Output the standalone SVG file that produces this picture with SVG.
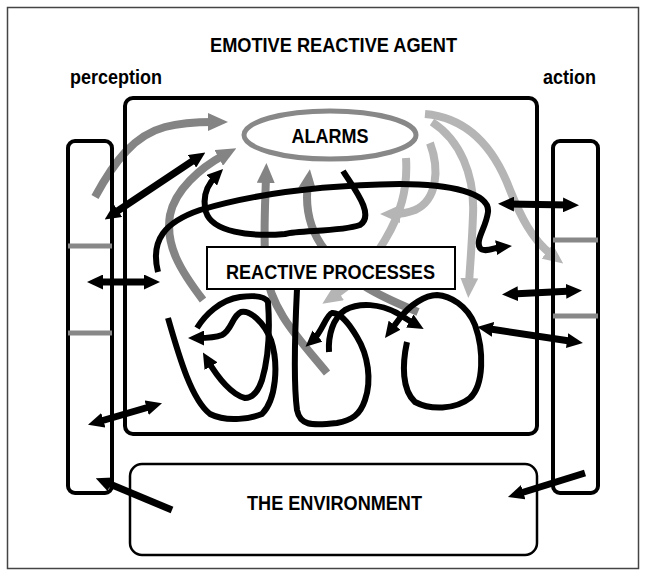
<svg xmlns="http://www.w3.org/2000/svg" width="646" height="576" viewBox="0 0 646 576">
<style>
  text { font-family: "Liberation Sans", Arial, sans-serif; font-weight: bold; fill: #000; }
  .lbl { font-size: 20px; }
  .frame { fill: none; stroke: #000; stroke-width: 4; }
  .bar { stroke: #888; stroke-width: 5; fill: none; }
  .blk { fill: none; stroke: #000; stroke-width: 7; marker-end: url(#ah); }
  .dbl { marker-start: url(#ah); }
  .loop { fill: none; stroke: #000; stroke-width: 6; stroke-linecap: butt; }
  .loopA { marker-end: url(#ah); }
  .g1 { fill: none; stroke: #848484; stroke-width: 8; marker-end: url(#ahg); }
  .g2 { fill: none; stroke: #b5b5b5; stroke-width: 8; marker-end: url(#ahl); }
</style>
<defs>
  <marker id="ah" markerUnits="userSpaceOnUse" markerWidth="16" markerHeight="15" viewBox="0 0 16 15" refX="6" refY="7.5" orient="auto-start-reverse">
    <path d="M0,0 L16,7.5 L0,15 z" fill="#000"/>
  </marker>
  <marker id="ahg" markerUnits="userSpaceOnUse" markerWidth="20" markerHeight="18" viewBox="0 0 20 18" refX="6" refY="9" orient="auto">
    <path d="M0,0 L20,9 L0,18 z" fill="#848484"/>
  </marker>
  <marker id="ahl" markerUnits="userSpaceOnUse" markerWidth="20" markerHeight="18" viewBox="0 0 20 18" refX="6" refY="9" orient="auto">
    <path d="M0,0 L20,9 L0,18 z" fill="#b5b5b5"/>
  </marker>
</defs>

<rect x="7.5" y="7.5" width="631" height="561" fill="#fff" stroke="#444" stroke-width="1.5"/>

<g id="title">
  <text class="lbl" x="333.5" y="52" text-anchor="middle" textLength="247" lengthAdjust="spacingAndGlyphs">EMOTIVE REACTIVE AGENT</text>
</g>

<g id="gray-connectors">
  <path class="g1" d="M95,197 C115,160 135,135 165,127 C180,123 200,122 214,122"/>
  <path class="g1" d="M203,300 C180,270 165,245 170,215 C175,190 200,168 224,155"/>
  <path class="g1" d="M327,373 C300,340 270,310 266,270 C263,240 265,210 266,177"/>
  <path class="g1" d="M418,312 C390,300 350,285 325,250 C308,228 305,205 308,183"/>
  <path class="g2" d="M425,114 C470,118 495,150 510,190 C520,215 532,240 552,255"/>
  <path class="g2" d="M432,122 C460,140 475,175 473,215 C472,245 470,265 469,284"/>
  <path class="g2" d="M430,143 C440,170 437,200 415,210 C407,213 400,214 394,214"/>
  <path class="g2" d="M406,158 C408,190 400,215 385,240 C372,262 355,282 334,296"/>
</g>

<g id="perception">
  <text class="lbl" x="70" y="84" textLength="92" lengthAdjust="spacingAndGlyphs">perception</text>
  <rect class="frame" x="68" y="141" width="44" height="352" rx="7"/>
  <line class="bar" x1="68" y1="246" x2="112" y2="246"/>
  <line class="bar" x1="68" y1="333" x2="112" y2="333"/>
</g>

<g id="action">
  <text class="lbl" x="543" y="84" textLength="53" lengthAdjust="spacingAndGlyphs">action</text>
  <rect class="frame" x="553" y="141" width="45" height="352" rx="7"/>
  <line class="bar" x1="553" y1="240" x2="598" y2="240"/>
  <line class="bar" x1="553" y1="316" x2="598" y2="316"/>
</g>

<g id="agent">
  <rect class="frame" x="125" y="98" width="412" height="336" rx="8"/>
</g>

<g id="alarms">
  <ellipse cx="330" cy="135" rx="86" ry="24" fill="#fff" stroke="#888" stroke-width="5"/>
  <text class="lbl" x="330" y="143" text-anchor="middle" textLength="77" lengthAdjust="spacingAndGlyphs">ALARMS</text>
</g>

<g id="reactive-processes">
  <rect x="207" y="247" width="248" height="42" fill="#fff" stroke="#000" stroke-width="2"/>
  <text class="lbl" x="330.5" y="279" text-anchor="middle" textLength="209" lengthAdjust="spacingAndGlyphs">REACTIVE PROCESSES</text>
</g>

<g id="environment">
  <rect x="130" y="464" width="407" height="91" rx="12" fill="#fff" stroke="#000" stroke-width="2.5"/>
  <text class="lbl" x="334.5" y="510" text-anchor="middle" textLength="175" lengthAdjust="spacingAndGlyphs">THE ENVIRONMENT</text>
</g>

<g id="connectors">
  <path class="blk dbl" d="M113,214 L197,158"/>
  <path class="blk dbl" d="M97,282 L150,282"/>
  <path class="blk dbl" d="M97.6,422 L152.4,406"/>
  <path class="blk" stroke-width="8" d="M172,510 L105,482"/>
  <path class="blk dbl" d="M508,204 L569,205"/>
  <path class="blk dbl" d="M512,294 L572,291"/>
  <path class="blk dbl" d="M487,328.5 L573,341.5"/>
  <path class="blk" stroke-width="8" d="M585,473 L517.5,494"/>
  <path class="loop loopA" d="M158,272 C150,240 165,222 200,210 C260,192 330,185 400,184 C450,184 490,193 488,212 C486,228 475,240 480,248 C484,253 493,248 502,247"/>
  <path class="loop loopA" d="M343,171 C355,190 375,215 360,225 C340,232 300,230 285,234 C250,237 212,232 206,212 C202,197 207,185 216,176"/>
  <path class="loop loopA" d="M168,318 C180,360 192,400 210,414 C228,423 252,418 262,414 C276,400 279,365 271,340 C264,322 250,310 241,312 C232,316 232,330 222,335 C214,338 206,338 198,338"/>
  <path class="loop loopA" d="M197,328 C205,315 220,300 240,297 C255,295 265,296 268,302 C270,330 268,360 262,380 C258,392 252,398 245,398 C232,395 218,378 208,361"/>
  <path class="loop loopA" d="M297,289 C295,330 293,380 297,410 C300,425 310,426 337,423 C352,420 360,415 365,400 C372,380 368,355 357,337 C350,325 340,312 332,313 C326,315 322,332 313,340"/>
  <path class="loop loopA" d="M329,352 C328,335 333,318 345,310 C360,302 380,304 397,313 C402,316 408,320 415,324"/>
  <path class="loop loopA" d="M407,342 C402,365 402,390 415,402 C430,410 455,410 470,398 C484,385 484,350 475,325 C467,305 450,296 437,295 C425,295 410,305 400,318 C397,322 394,326 391,330"/>
</g>
</svg>
